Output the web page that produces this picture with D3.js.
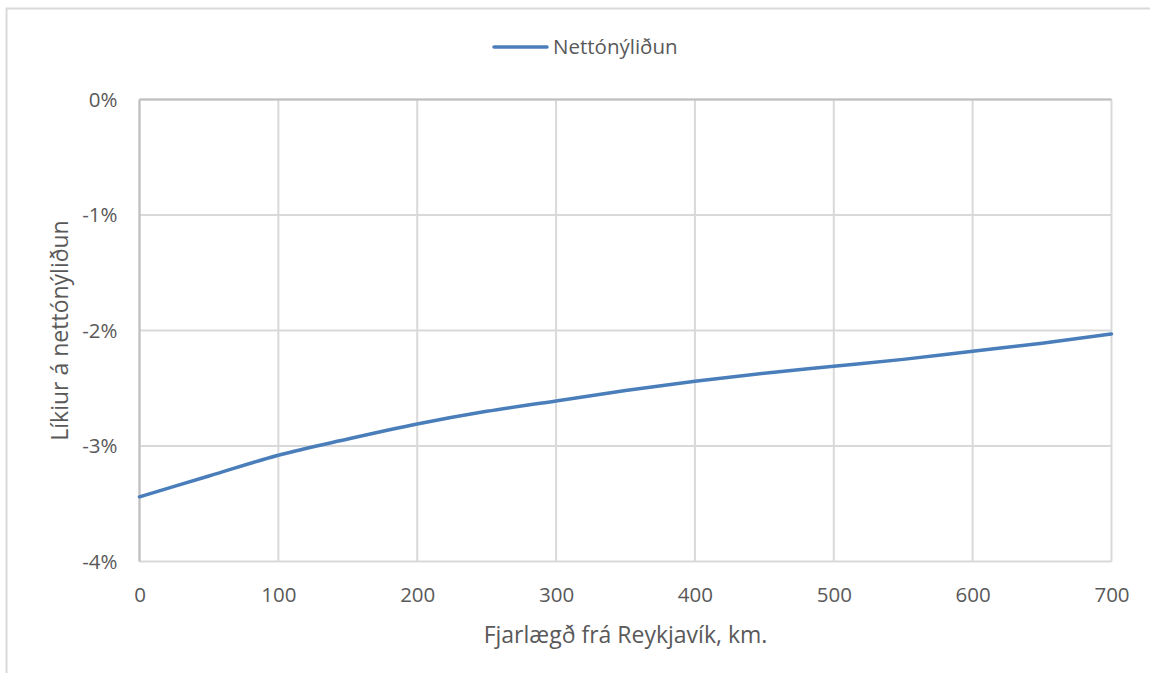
<!DOCTYPE html>
<html>
<head>
<meta charset="utf-8">
<script src="https://cdn.jsdelivr.net/npm/d3@7"></script>
<style>
  html, body { margin: 0; padding: 0; background: #fff; }
  svg { display: block; font-family: "Open Sans", "Noto Sans", sans-serif; }
</style>
</head>
<body>
<svg id="chart" width="1150" height="673"></svg>
<script>
// Distance from Reykjavík (km) and the estimated change in net new births (%)
const distanceKm = [0, 50, 100, 150, 200, 250, 300, 350, 400, 450, 500, 550, 600, 650, 700];
const nettonylidun = [-3.44, -3.26, -3.08, -2.94, -2.81, -2.70, -2.61, -2.52, -2.44, -2.37, -2.31, -2.25, -2.18, -2.11, -2.03];
const xTicks = [0, 100, 200, 300, 400, 500, 600, 700];
const yTicks = [0, -1, -2, -3, -4];
const seriesName = "Nettónýliðun";
const xTitle = "Fjarlægð frá Reykjavík, km.";
const yTitle = "Líkiur á nettónýliðun";

const svg = d3.select("#chart");
const textColor = "#595959";

// outer chart frame
svg.append("rect")
  .attr("x", 6.5).attr("y", 8.5)
  .attr("width", 1200).attr("height", 700)
  .attr("fill", "none").attr("stroke", "#d9d9d9").attr("stroke-width", 2);

const plot = { left: 139.5, right: 1111.5, top: 99.5, bottom: 561.5 };

const x = d3.scaleLinear().domain([0, 700]).range([plot.left, plot.right]);
const y = d3.scaleLinear().domain([-4, 0]).range([plot.bottom, plot.top]);

// gridlines
svg.append("g")
  .selectAll("line")
  .data(xTicks)
  .join("line")
  .attr("x1", d => x(d)).attr("x2", d => x(d))
  .attr("y1", plot.top).attr("y2", plot.bottom)
  .attr("stroke", "#d9d9d9").attr("stroke-width", 2);

svg.append("g")
  .selectAll("line")
  .data(yTicks)
  .join("line")
  .attr("x1", plot.left).attr("x2", plot.right)
  .attr("y1", d => y(d)).attr("y2", d => y(d))
  .attr("stroke", "#d9d9d9").attr("stroke-width", 2);

// boundary at 0% and left axis
svg.append("line")
  .attr("x1", plot.left).attr("x2", plot.right)
  .attr("y1", y(0)).attr("y2", y(0))
  .attr("stroke", "#bfbfbf").attr("stroke-width", 2);
svg.append("line")
  .attr("x1", plot.left).attr("x2", plot.left)
  .attr("y1", plot.top).attr("y2", plot.bottom)
  .attr("stroke", "#bfbfbf").attr("stroke-width", 2);

// x tick labels
const xAxis = d3.axisBottom(x).tickValues(xTicks).tickSize(0).tickPadding(0).tickFormat(d3.format("d"));
const gx = svg.append("g").attr("transform", `translate(0,${plot.bottom + 40})`).call(xAxis);
gx.select(".domain").remove();
gx.selectAll("text").attr("fill", textColor).attr("font-size", 20.5)
  .attr("font-family", "'Open Sans', sans-serif").attr("dy", 0);

// y tick labels
const yAxis = d3.axisLeft(y).tickValues(yTicks).tickSize(0).tickPadding(0).tickFormat(d => d + "%");
const gy = svg.append("g").attr("transform", `translate(${plot.left - 22},0)`).call(yAxis);
gy.select(".domain").remove();
gy.selectAll("text").attr("fill", textColor).attr("font-size", 20.5)
  .attr("font-family", "'Open Sans', sans-serif");

// data line
const line = d3.line()
  .x((d, i) => x(distanceKm[i]))
  .y(d => y(d))
  .curve(d3.curveMonotoneX);

svg.append("path")
  .datum(nettonylidun)
  .attr("d", line)
  .attr("fill", "none")
  .attr("stroke", "#4a7ebb")
  .attr("stroke-width", 3.5)
  .attr("stroke-linecap", "round");

// axis titles
svg.append("text")
  .attr("x", (plot.left + plot.right) / 2)
  .attr("y", 643)
  .attr("text-anchor", "middle")
  .attr("fill", textColor).attr("font-size", 23)
  .text(xTitle);

svg.append("text")
  .attr("transform", `translate(68,${(plot.top + plot.bottom) / 2}) rotate(-90)`)
  .attr("text-anchor", "middle")
  .attr("fill", textColor).attr("font-size", 23)
  .text(yTitle);

// legend
const legend = svg.append("g").attr("transform", "translate(494,47)");
legend.append("line")
  .attr("x1", 0).attr("x2", 53).attr("y1", 0).attr("y2", 0)
  .attr("stroke", "#4a7ebb").attr("stroke-width", 3.5).attr("stroke-linecap", "round");
legend.append("text")
  .attr("x", 59).attr("y", 7)
  .attr("fill", textColor).attr("font-size", 20.5)
  .text(seriesName);
</script>
</body>
</html>
